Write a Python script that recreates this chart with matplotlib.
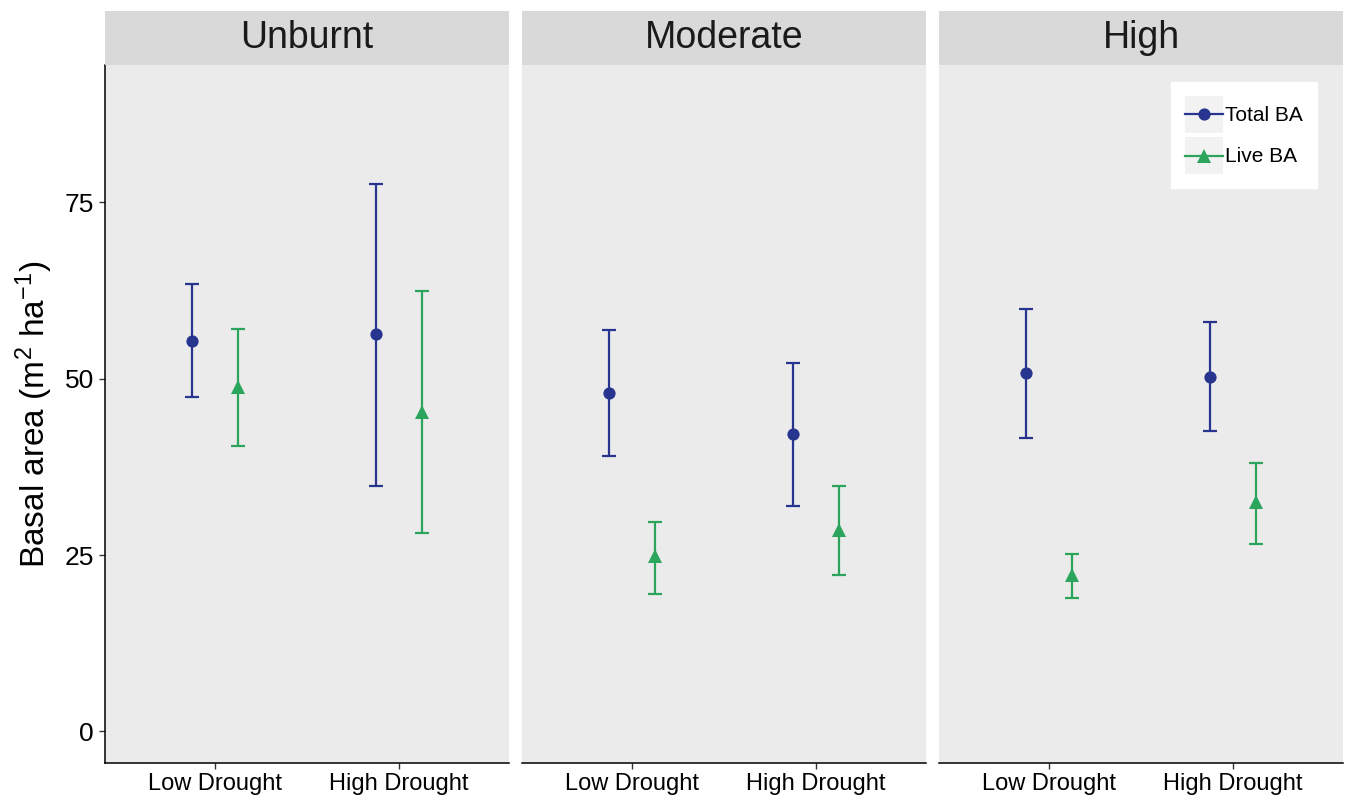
import matplotlib
matplotlib.use("Agg")
import matplotlib.pyplot as plt
from matplotlib.legend_handler import HandlerLine2D
from matplotlib.lines import Line2D
from matplotlib.patches import Rectangle
import numpy as np

plt.rcParams["font.family"] = ["Liberation Sans", "DejaVu Sans"]
plt.rcParams["mathtext.fontset"] = "custom"
plt.rcParams["mathtext.rm"] = "Liberation Sans"
plt.rcParams["mathtext.it"] = "Liberation Sans:italic"

# ---- data -------------------------------------------------------------
severity = ["Unburnt", "Moderate", "High"]
drought = ["Low Drought", "High Drought"]

# rows = severity, cols = drought level
total_mean = [[55.3, 56.3], [48.0, 42.1], [50.8, 50.3]]
total_lo   = [[47.4, 34.8], [39.0, 32.0], [41.6, 42.6]]
total_hi   = [[63.4, 77.6], [56.9, 52.2], [59.9, 58.0]]

live_mean = [[48.8, 45.3], [24.8, 28.6], [22.2, 32.5]]
live_lo   = [[40.4, 28.1], [19.5, 22.1], [18.9, 26.5]]
live_hi   = [[57.0, 62.4], [29.7, 34.8], [25.1, 38.0]]

yticks = [0, 25, 50, 75]

BLUE = "#27358f"
GREEN = "#2ba55c"
PANEL_BG = "#ebebeb"
STRIP_BG = "#d9d9d9"
DODGE = 0.125

W, H = 1346, 799
fig = plt.figure(figsize=(W / 100, H / 100), dpi=100)

panel_lefts = [105, 522, 939]
panel_w = 404
panel_top, panel_bottom = 65, 763
strip_top = 11


class KeyHandler(HandlerLine2D):
    """Legend key: grey square with the line+marker centred in it."""
    def create_artists(self, legend, orig_handle, xdescent, ydescent,
                       width, height, fontsize, trans):
        bg = Rectangle((-xdescent, -ydescent), width, height,
                       facecolor="#f2f2f2", edgecolor="none", transform=trans)
        arts = super().create_artists(legend, orig_handle, xdescent, ydescent,
                                      width, height, fontsize, trans)
        ymid = height / 2 - ydescent
        for a in arts:
            if isinstance(a, Line2D):
                a.set_ydata(np.full_like(a.get_xdata(), ymid, dtype=float))
        return [bg] + list(arts)


def draw_series(ax, xs, mean, lo, hi, color, marker, ms):
    mean = np.asarray(mean)
    err = np.vstack([mean - np.asarray(lo), np.asarray(hi) - mean])
    ax.errorbar(xs, mean, yerr=err, fmt="none", ecolor=color, elinewidth=1.6,
                capsize=4.7, capthick=1.6, zorder=2)
    ax.plot(xs, mean, linestyle="none", marker=marker, color=color,
            markersize=ms, markeredgewidth=0, zorder=3)


x = np.arange(1, len(drought) + 1)
axes = []
for i, sev in enumerate(severity):
    left = panel_lefts[i] / W
    ax = fig.add_axes([left, (H - panel_bottom) / H, panel_w / W,
                       (panel_bottom - panel_top) / H])
    ax.set_facecolor(PANEL_BG)

    draw_series(ax, x - DODGE, total_mean[i], total_lo[i], total_hi[i],
                BLUE, "o", 8.8)
    draw_series(ax, x + DODGE, live_mean[i], live_lo[i], live_hi[i],
                GREEN, "^", 10.5)

    ax.set_xlim(0.4, 2.6)
    ax.set_ylim(-4.5, 94.5)
    ax.set_xticks(x)
    ax.set_xticklabels(drought, fontsize=17)
    ax.set_yticks(yticks)

    for side in ["top", "right"]:
        ax.spines[side].set_visible(False)
    ax.spines["bottom"].set_linewidth(1.1)
    ax.spines["bottom"].set_color("black")
    ax.tick_params(axis="x", length=4.5, width=1.0, color="#333333", pad=3)
    if i == 0:
        ax.spines["left"].set_linewidth(1.1)
        ax.spines["left"].set_color("black")
        ax.set_yticklabels([str(t) for t in yticks], fontsize=19)
        ax.tick_params(axis="y", length=4.5, width=1.0, color="#333333", pad=3.5)
        ax.set_ylabel("Basal area (m$^2$ ha$^{-1}$)", fontsize=24, labelpad=7)
    else:
        ax.spines["left"].set_visible(False)
        ax.tick_params(axis="y", left=False, labelleft=False)

    # facet strip
    sax = fig.add_axes([left, (H - panel_top) / H, panel_w / W,
                        (panel_top - strip_top) / H])
    sax.set_facecolor(STRIP_BG)
    sax.set_xticks([])
    sax.set_yticks([])
    for sp in sax.spines.values():
        sp.set_visible(False)
    sax.text(0.5, 0.5, sev, fontsize=27, color="#1a1a1a",
             ha="center", va="center", transform=sax.transAxes)
    axes.append(ax)

handles = [
    Line2D([], [], color=BLUE, marker="o", markersize=8.8, lw=1.6,
           markeredgewidth=0, label="Total BA"),
    Line2D([], [], color=GREEN, marker="^", markersize=10.5, lw=1.6,
           markeredgewidth=0, label="Live BA"),
]
leg = axes[2].legend(handles=handles, loc="upper right",
                     bbox_to_anchor=(1317 / W, (H - 82) / H),
                     bbox_transform=fig.transFigure,
                     fontsize=15, frameon=True, fancybox=False,
                     handlelength=1.83, handleheight=2.36, handletextpad=0.1,
                     labelspacing=0.2, borderpad=0.67, borderaxespad=0,
                     handler_map={Line2D: KeyHandler()})
leg.get_frame().set_facecolor("white")
leg.get_frame().set_edgecolor("white")
leg.get_frame().set_alpha(1)

fig.savefig("out.png", dpi=100, facecolor="white")
